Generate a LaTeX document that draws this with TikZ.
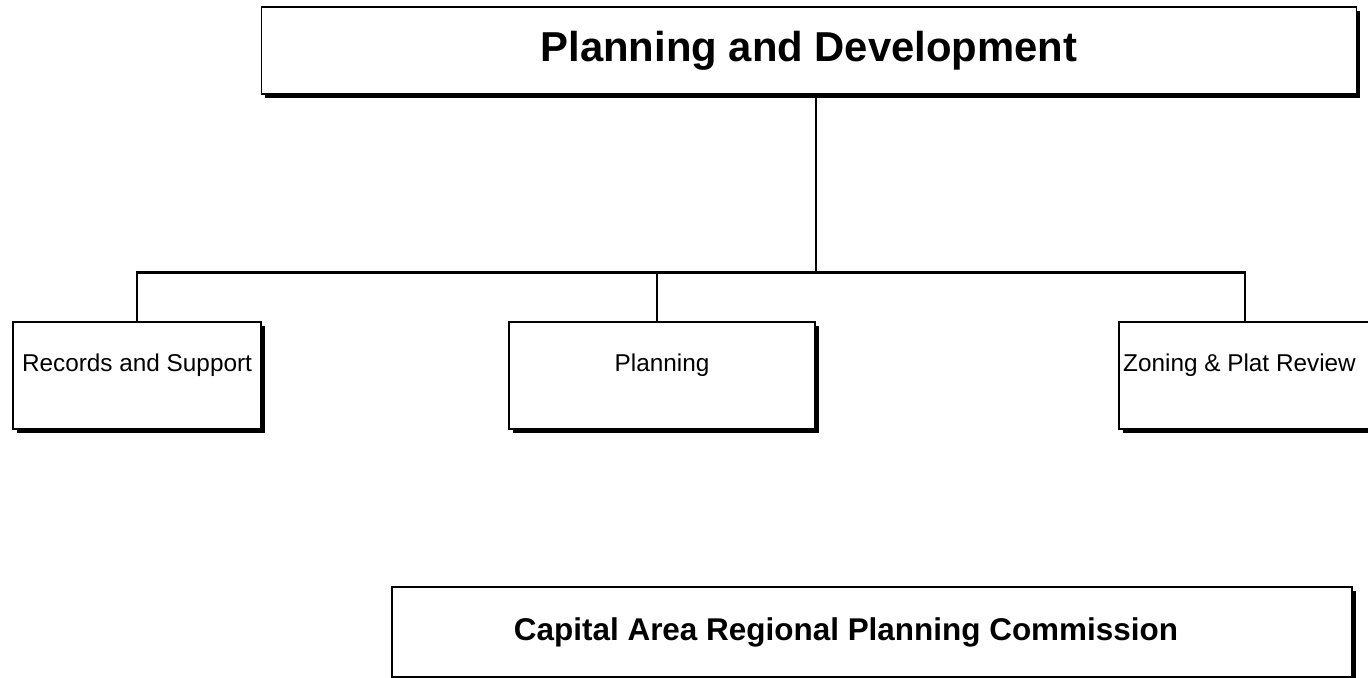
\documentclass[tikz,border=0pt]{standalone}
\usepackage{fontspec}
\setmainfont{Liberation Sans}
\usetikzlibrary{shadows}
\usetikzlibrary{positioning}
\tikzstyle{boxed} = [rectangle, draw=black, line width=0.8pt, fill=white, inner sep=0pt, drop shadow={shadow xshift=0.075cm, shadow yshift=-0.075cm, fill=black, opacity=1}]
\tikzstyle{head} = [boxed, minimum width=21.9cm, minimum height=1.74cm, font=\bfseries\fontsize{23.8}{28}\selectfont]
\tikzstyle{unit} = [boxed, align=center, text height=0.98cm, text depth=1.16cm, font=\fontsize{13.85}{16}\selectfont]
\tikzstyle{agency} = [boxed, align=center, minimum width=19.2cm, minimum height=1.8cm, font=\bfseries\fontsize{17.9}{21}\selectfont]
\tikzstyle{link} = [line width=1.4pt]

\begin{document}
\begin{tikzpicture}[x=0.02cm, y=-0.02cm]

    \clip (0,0) rectangle (1368,678);
    \fill [white] (0,0) rectangle (1368,678);

    \node (top) [head] at (809,50.5) {Planning and Development};

    \node (unit1) [unit, minimum width=4.96cm] at (137,375.5) {Records and Support};
    \node (unit2) [unit, minimum width=6.12cm] at (662,375.5) {Planning};
    \node (unit3) [unit, minimum width=5.04cm] at (1245,375.5) {Zoning \& Plat Review\hspace*{0.22cm}};

    \node (capital) [agency] at (872,632) {Capital Area Regional Planning Commission\hspace*{1.04cm}};

    % org chart lines
    \coordinate (hub) at (816,272.5);
    \coordinate (drop2) at (657,272.5);

    \draw [link] (top.south -| hub) -- (hub);
    \draw [link] (unit1.north) |- (hub);
    \draw [link] (unit3.north) |- (hub);
    \draw [link] (drop2) -- (drop2 |- unit2.north);

\end{tikzpicture}
\end{document}
